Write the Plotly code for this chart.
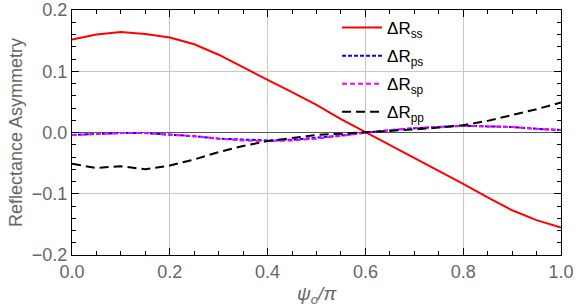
import plotly.graph_objects as go

x = [0.0, 0.05, 0.1, 0.15, 0.2, 0.25, 0.3, 0.35, 0.4, 0.45, 0.5,
     0.55, 0.6, 0.65, 0.7, 0.75, 0.8, 0.85, 0.9, 0.95, 1.0]
R_ss = [0.152, 0.160, 0.164, 0.161, 0.155, 0.144, 0.127, 0.106, 0.086, 0.066, 0.045,
        0.022, 0.001, -0.020, -0.041, -0.063, -0.084, -0.106, -0.127, -0.143, -0.155]
R_ps = [-0.004, -0.002, -0.001, -0.001, -0.003, -0.006, -0.010, -0.012, -0.013, -0.012, -0.009,
        -0.005, 0.000, 0.004, 0.007, 0.009, 0.011, 0.010, 0.009, 0.006, 0.004]
R_sp = [-0.004, -0.002, -0.001, -0.001, -0.003, -0.006, -0.010, -0.013, -0.014, -0.013, -0.010,
        -0.005, 0.000, 0.004, 0.007, 0.009, 0.011, 0.010, 0.009, 0.006, 0.004]
R_pp = [-0.051, -0.058, -0.055, -0.060, -0.054, -0.044, -0.032, -0.022, -0.014, -0.009, -0.004,
        -0.002, 0.000, 0.002, 0.005, 0.008, 0.012, 0.019, 0.028, 0.038, 0.049]

names = ["ΔR<sub>ss</sub>", "ΔR<sub>ps</sub>", "ΔR<sub>sp</sub>", "ΔR<sub>pp</sub>"]
x_ticks = [0.0, 0.2, 0.4, 0.6, 0.8, 1.0]
x_ticktext = ["0.0", "0.2", "0.4", "0.6", "0.8", "1.0"]
y_ticks = [-0.2, -0.1, 0.0, 0.1, 0.2]
y_ticktext = ["−0.2", "−0.1", "0.0", "0.1", "0.2"]

fig = go.Figure()
fig.add_trace(go.Scatter(x=x, y=R_ss, mode="lines", name=names[0], legendgroup="a",
                         line=dict(color="#ff0000", width=2)))
fig.add_trace(go.Scatter(x=x, y=R_ps, mode="lines", name=names[1], legendgroup="b",
                         line=dict(color="#0000ff", width=2, dash="4px,2px")))
fig.add_trace(go.Scatter(x=x, y=R_sp, mode="lines", name=names[2], legendgroup="c",
                         line=dict(color="#ff00ff", width=2, dash="5px,3px")))
fig.add_trace(go.Scatter(x=x, y=R_pp, mode="lines", name=names[3], legendgroup="d",
                         line=dict(color="#000000", width=2, dash="9px,5px")))

fam = "Liberation Sans, Arial, sans-serif"
tickfont = dict(family=fam, size=18, color="#666666")
fig.update_layout(
    width=576, height=308,
    margin=dict(l=72, r=15, t=10, b=53),
    paper_bgcolor="white", plot_bgcolor="white",
    font=dict(family=fam),
    legend=dict(x=0.542, y=1.0, xanchor="left", yanchor="top",
                bgcolor="rgba(0,0,0,0)", borderwidth=0,
                font=dict(size=17, color="black"), tracegroupgap=3,
                itemwidth=40),
    xaxis=dict(range=[0, 1], tickvals=x_ticks, ticktext=x_ticktext, automargin=False,
               ticklabeloverflow="allow",
               showline=True, linecolor="black", linewidth=1, mirror="ticks",
               ticks="inside", ticklen=7, tickcolor="black",
               showgrid=True, gridcolor="#c8c8c8", gridwidth=1,
               zeroline=False, tickfont=tickfont,
               minor=dict(ticks="inside", dtick=0.05, ticklen=4, tickcolor="black", showgrid=False),
               title=dict(text="<i>ψ<sub>o</sub>/π</i>", font=dict(size=19, color="#666666"),
                          standoff=6)),
    yaxis=dict(range=[-0.2, 0.2], tickvals=y_ticks, ticktext=y_ticktext, automargin=False,
               ticklabeloverflow="allow",
               showline=True, linecolor="black", linewidth=1, mirror="ticks",
               ticks="inside", ticklen=7, tickcolor="black",
               showgrid=True, gridcolor="#c8c8c8", gridwidth=1,
               zeroline=True, zerolinecolor="#555555", zerolinewidth=1,
               tickfont=tickfont,
               minor=dict(ticks="inside", dtick=0.02, ticklen=4, tickcolor="black", showgrid=False),
               title=dict(text="Reflectance Asymmetry", font=dict(size=18, color="#666666"),
                          standoff=4)),
)
fig.write_html("out.html", config={"displayModeBar": False},
               post_script="document.body.style.margin='0';")
